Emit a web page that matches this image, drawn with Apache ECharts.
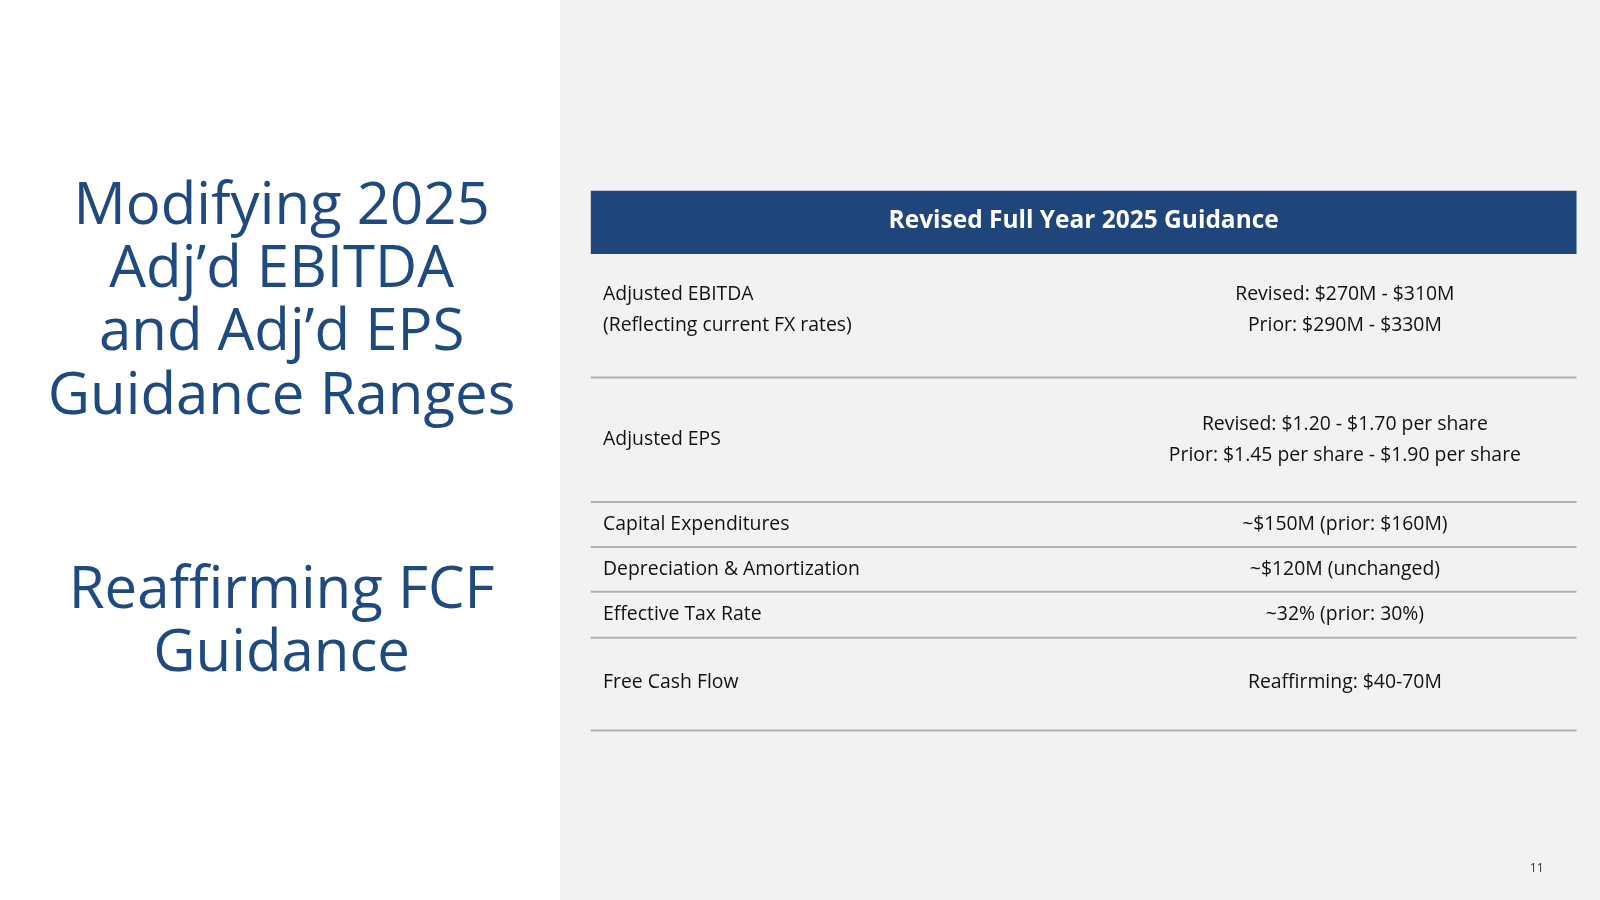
<!DOCTYPE html>
<html><head><meta charset="utf-8">
<script src="https://cdn.jsdelivr.net/npm/echarts@6/dist/echarts.min.js"></script>
<style>html,body{margin:0;padding:0;background:#fff}#c{width:1600px;height:900px}</style>
</head><body><div id="c"></div>
<script>
const titleLeft = ["Modifying 2025","Adj\u2019d EBITDA","and Adj\u2019d EPS","Guidance Ranges"];
const titleLeft2 = ["Reaffirming FCF","Guidance"];
const tableHeader = "Revised Full Year 2025 Guidance";
const rowLabels = [["Adjusted EBITDA","(Reflecting current FX rates)"],["Adjusted EPS"],["Capital Expenditures"],["Depreciation & Amortization"],["Effective Tax Rate"],["Free Cash Flow"]];
const rowValues = [["Revised: $270M - $310M","Prior: $290M - $330M"],["Revised: $1.20 - $1.70 per share","Prior: $1.45 per share - $1.90 per share"],["~$150M (prior: $160M)"],["~$120M (unchanged)"],["~32% (prior: 30%)"],["Reaffirming: $40-70M"]];
const pageNum = "11";

const k = 1600/1568;
const s = v => v*k;
const rowTop = [249,370,492,536,580,625];
const rowBot = [370,492,536,580,625,716];
const font = "'Open Sans', 'Noto Sans', sans-serif";
const blue = "#1f4a80";
const g = [];
g.push({type:'rect',shape:{x:s(549),y:0,width:1600-s(549),height:900},style:{fill:'#f2f2f2'},silent:true});
titleLeft.forEach((t,i)=>g.push({type:'text',x:s(276),y:s(203+i*62),style:{text:t,fill:blue,font:`${s(57)}px ${font}`,align:'center',verticalAlign:'middle'}}));
titleLeft2.forEach((t,i)=>g.push({type:'text',x:s(276),y:s(580+i*61),style:{text:t,fill:blue,font:`${s(57)}px ${font}`,align:'center',verticalAlign:'middle'}}));
g.push({type:'rect',shape:{x:s(579),y:s(187),width:s(966),height:s(62)},style:{fill:'#1f457a'}});
g.push({type:'text',x:s(1062),y:s(217),style:{text:tableHeader,fill:'#fff',font:`bold ${s(24)}px ${font}`,align:'center',verticalAlign:'middle'}});
rowLabels.forEach((lab,i)=>{
  const mid=(rowTop[i]+rowBot[i])/2 + (i===0?-6:0) + (i===5?-2:0);
  const lh=30;
  lab.forEach((t,j)=>g.push({type:'text',x:s(591),y:s(mid+(j-(lab.length-1)/2)*lh),style:{text:t,fill:'#111',font:`${s(19)}px ${font}`,align:'left',verticalAlign:'middle'}}));
  const v=rowValues[i];
  v.forEach((t,j)=>g.push({type:'text',x:s(1318),y:s(mid+(j-(v.length-1)/2)*lh),style:{text:t,fill:'#111',font:`${s(19)}px ${font}`,align:'center',verticalAlign:'middle'}}));
  g.push({type:'rect',shape:{x:s(579),y:s(rowBot[i])-1,width:s(966),height:2},style:{fill:'#b0b0b0'}});
});
g.push({type:'text',x:s(1506),y:s(851),style:{text:pageNum,fill:'#333',font:`${s(12)}px ${font}`,align:'center',verticalAlign:'middle'}});
const chart=echarts.init(document.getElementById('c'));
chart.setOption({animation:false,graphic:g});
</script></body></html>
